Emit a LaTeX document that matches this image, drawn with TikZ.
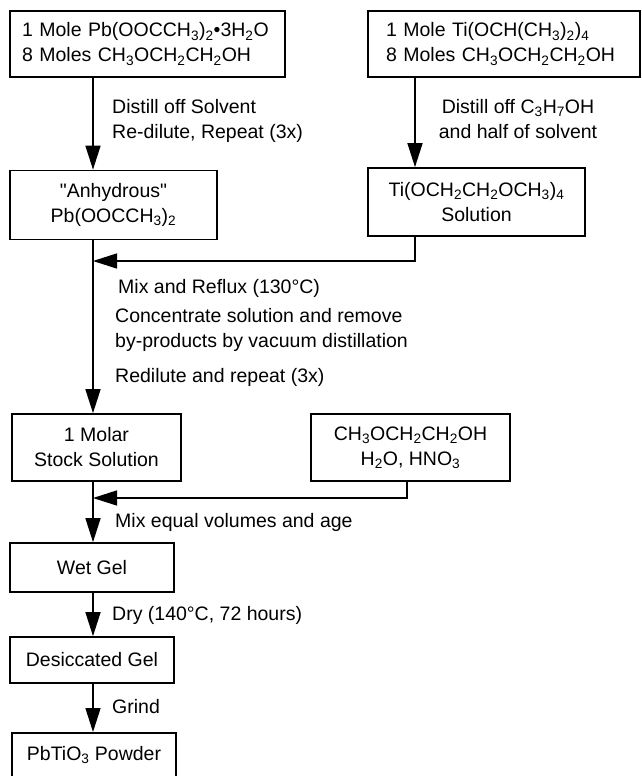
\documentclass[tikz,border=0pt]{standalone}
\usepackage{fontspec}
\setmainfont{Liberation Sans}
\usetikzlibrary{positioning, arrows.meta}

\begin{document}
\begin{tikzpicture}[
        x=1pt, y=-1pt,
        font=\fontsize{19.5}{25}\selectfont,
        box/.style={
            rectangle, draw=black, line width=1.7pt, inner sep=0pt,
            align=center
        },
        note/.style={anchor=base west, align=left, inner sep=0pt},
        arrow/.style={-{Triangle[length=24pt, width=15pt]}, line width=1.5pt}
    ]
        \useasboundingbox (0,0) rectangle (641,776);
        \clip (0,0) rectangle (641,776);
        \coordinate (spine) at (93,0);
        \coordinate (tiline) at (415,0);
        \coordinate (solvline) at (407,0);

        \node[box, minimum width=275pt, minimum height=66pt, text width=251pt, align=left]
            (pbsrc) at (147.5,44) {1 Mole Pb(OOCCH\textsubscript{3})\textsubscript{2}•3H\textsubscript{2}O\\8 Moles CH\textsubscript{3}OCH\textsubscript{2}CH\textsubscript{2}OH};
        \node[box, minimum width=272pt, minimum height=66pt, text width=236pt, align=left]
            (tisrc) at (504,44) {1 Mole Ti(OCH(CH\textsubscript{3})\textsubscript{2})\textsubscript{4}\\8 Moles CH\textsubscript{3}OCH\textsubscript{2}CH\textsubscript{2}OH};
        \node[box, minimum width=207pt, minimum height=69pt]
            (anhyd) at (113.5,205) {\textquotedbl Anhydrous\textquotedbl\\Pb(OOCCH\textsubscript{3})\textsubscript{2}};
        \node[box, minimum width=217pt, minimum height=68pt]
            (tisol) at (476.5,202) {Ti(OCH\textsubscript{2}CH\textsubscript{2}OCH\textsubscript{3})\textsubscript{4}\\Solution};
        \node[box, minimum width=169pt, minimum height=67pt]
            (molar) at (96.5,447.5) {1 Molar\\Stock Solution};
        \node[box, minimum width=199pt, minimum height=67pt]
            (solv) at (410.5,447.5) {CH\textsubscript{3}OCH\textsubscript{2}CH\textsubscript{2}OH\\H\textsubscript{2}O, HNO\textsubscript{3}};
        \node[box, minimum width=164pt, minimum height=49pt]
            (wetgel) at (92,567.5) {Wet Gel};
        \node[box, minimum width=164pt, minimum height=46pt]
            (dgel) at (92,660) {Desiccated Gel};
        \node[box, minimum width=164pt, text height=28pt, text depth=32pt, anchor=north]
            (powder) at (94,732) {PbTiO\textsubscript{3} Powder};

        \coordinate (mixti) at (93,261);
        \coordinate (mixsolv) at (93,498);

        \draw[arrow] (pbsrc.south -| spine) -- (anhyd.north -| spine);
        \draw[arrow] (tisrc.south -| tiline) -- (tisol.north -| tiline);
        \draw[arrow] (tisol.south -| tiline) |- (mixti);
        \draw[arrow] (anhyd.south -| spine) -- (molar.north -| spine);
        \draw[arrow] (solv.south -| solvline) |- (mixsolv);
        \draw[arrow] (molar.south -| spine) -- (wetgel.north -| spine);
        \draw[arrow] (wetgel.south -| spine) -- (dgel.north -| spine);
        \draw[arrow] (dgel.south -| spine) -- (powder.north -| spine);

        \node[note] (distpb) at (112,138) {Distill off Solvent\\Re-dilute, Repeat (3x)};
        \node[note, anchor=base, align=center] (distti) at (518,138) {Distill off C\textsubscript{3}H\textsubscript{7}OH\\and half of solvent};
        \node[note] (reflux) at (118,293) {Mix and Reflux (130°C)};
        \node[note] (conc) at (115,347) {Concentrate solution and remove\\by-products by vacuum distillation};
        \node[note] (redil) at (115,382) {Redilute and repeat (3x)};
        \node[note] (mixeq) at (115,527) {Mix equal volumes and age};
        \node[note] (dry) at (112,620) {Dry (140°C, 72 hours)};
        \node[note] (grind) at (112,713) {Grind};
    \end{tikzpicture}
\end{document}
